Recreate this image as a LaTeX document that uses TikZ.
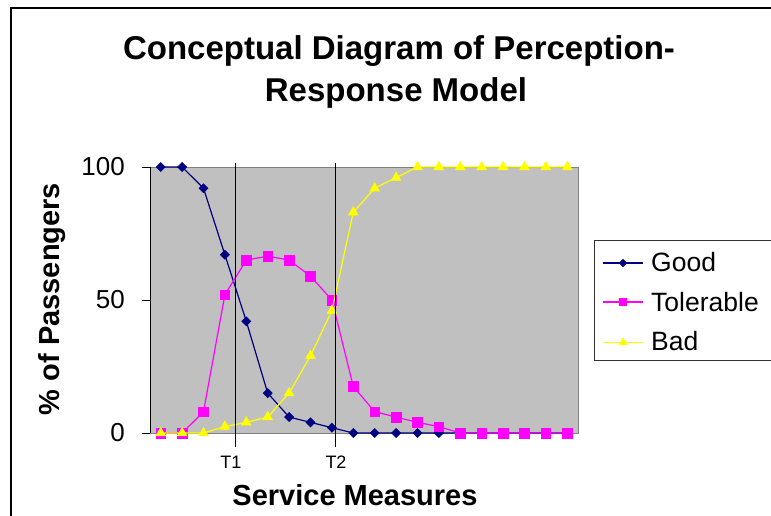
\documentclass[tikz,border=0pt]{standalone}
\usepackage{fontspec}
\setmainfont{Liberation Sans}
\usetikzlibrary{plotmarks}
\definecolor{goodblue}{RGB}{0,0,128}
\definecolor{tolpink}{RGB}{255,0,255}
\definecolor{badyellow}{RGB}{255,255,0}
\definecolor{areagray}{RGB}{192,192,192}
\definecolor{edgegray}{RGB}{128,128,128}

\begin{document}
\begin{tikzpicture}[x=1pt, y=-1pt,
    goodline/.style={goodblue, line width=1.2pt, mark=square*, mark options={rotate=45, fill=goodblue, line width=0.6pt}, mark size=3.2pt},
    tolline/.style={tolpink, line width=1.2pt, mark=square*, mark options={fill=tolpink, line width=0.6pt}, mark size=4.8pt},
    badline/.style={badyellow, line width=1.2pt, mark=triangle*, mark options={fill=badyellow, line width=0.6pt}, mark size=5.6pt},
    ticklabel/.style={inner sep=0pt, font=\fontsize{26}{30}\selectfont},
    legtext/.style={inner sep=0pt, anchor=base west, font=\fontsize{26.5}{30}\selectfont},
    axistitle/.style={inner sep=0pt, font=\bfseries\fontsize{29}{34}\selectfont}]
\useasboundingbox (0,0) rectangle (771,516);

% chart frame (runs off the page on the right and bottom)
\draw[line width=1.5pt] (11,540) -- (11,8) -- (800,8);

% title
\node[inner sep=0pt, anchor=base, font=\bfseries\fontsize{33}{40}\selectfont] (titleA) at (399,60) {Conceptual Diagram of Perception-};
\node[inner sep=0pt, anchor=base, font=\bfseries\fontsize{33}{40}\selectfont] (titleB) at (396,102) {Response Model};

% plot area
\fill[areagray] (150,167) rectangle (578,433);
\draw[edgegray, line width=1pt] (150,167) -- (578,167) -- (578,433) -- (150,433);
\draw[line width=0.8pt] (150,167) -- (150,433);
\foreach \v/\y in {0/433, 50/300, 100/167}
{
    \draw[line width=0.8pt] (142,\y) -- (150,\y);
    \node[ticklabel, anchor=east] (tick\v) at (125,\y) {\v};
}

% series
\begin{scope}[shift={(150,433)}, x=21.4pt, y=2.66pt]
\draw[goodline] plot coordinates {(0.5,100) (1.5,100) (2.5,92) (3.5,67) (4.5,42) (5.5,15) (6.5,6) (7.5,4) (8.5,2)
    (9.5,0) (10.5,0) (11.5,0) (12.5,0) (13.5,0) (14.5,0) (15.5,0) (16.5,0) (17.5,0) (18.5,0) (19.5,0)};
\draw[tolline] plot coordinates {(0.5,0) (1.5,0) (2.5,8) (3.5,52) (4.5,65) (5.5,66.5) (6.5,65) (7.5,59) (8.5,50)
    (9.5,17.5) (10.5,8) (11.5,6) (12.5,4) (13.5,2.4) (14.5,0) (15.5,0) (16.5,0) (17.5,0) (18.5,0) (19.5,0)};
\draw[badline] plot coordinates {(0.5,0) (1.5,0) (2.5,0) (3.5,2.4) (4.5,4) (5.5,6) (6.5,15) (7.5,29) (8.5,46)
    (9.5,83) (10.5,92) (11.5,96) (12.5,100) (13.5,100) (14.5,100) (15.5,100) (16.5,100) (17.5,100) (18.5,100) (19.5,100)};
\end{scope}

% thresholds
\draw[line width=1.2pt] (235.7,163) -- (235.7,447);
\draw[line width=1.2pt] (335.3,163) -- (335.3,447);
\node[inner sep=0pt, font=\fontsize{18}{20}\selectfont] (tone) at (231,462) {T1};
\node[inner sep=0pt, font=\fontsize{18}{20}\selectfont] (ttwo) at (336,462) {T2};

% axis titles
\node[axistitle, anchor=base] (xtitle) at (355,505) {Service Measures};
\node[axistitle, rotate=90] (ytitle) at (52,299) {\% of Passengers};

% legend
\draw[line width=1pt, black!80] (800,240) -- (594,240) -- (594,360) -- (800,360);
\draw[goodline, mark size=2.6pt, mark indices={2}] plot coordinates {(603,263) (623,263) (643,263)};
\draw[tolline, mark size=3.6pt, mark indices={2}] plot coordinates {(603,302) (623,302) (643,302)};
\draw[badline, mark size=4.6pt, mark indices={2}] plot coordinates {(603,342.5) (623,342.5) (643,342.5)};
\node[legtext] (leggood) at (651,271) {Good};
\node[legtext] (legtol) at (651,311) {Tolerable};
\node[legtext] (legbad) at (651,350) {Bad};
\end{tikzpicture}
\end{document}
